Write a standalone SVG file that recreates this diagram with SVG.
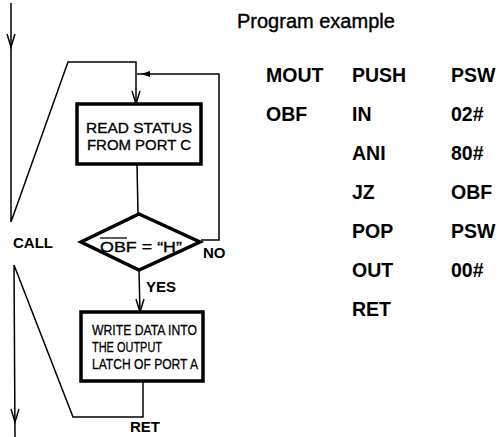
<svg xmlns="http://www.w3.org/2000/svg" width="498" height="437" viewBox="0 0 498 437">
<style>
.ln{fill:none;stroke:#000;stroke-width:1.5;stroke-linejoin:miter}
.box{fill:#fff;stroke:#000;stroke-width:3.5}
.ah{fill:none;stroke:#000;stroke-width:1.5}
.lbl{font-family:"Liberation Sans",Arial,sans-serif;font-weight:bold;font-size:15px;fill:#000}
.bt{font-family:"Liberation Sans",Arial,sans-serif;font-size:14.5px;fill:#000;stroke:#000;stroke-width:0.3}
.bt2{font-family:"Liberation Sans",Arial,sans-serif;font-size:15px;fill:#000;stroke:#000;stroke-width:0.3}
.prog{font-family:"Liberation Sans",Arial,sans-serif;font-weight:bold;font-size:19.5px;fill:#000}
.title{font-family:"Liberation Sans",Arial,sans-serif;font-size:20px;fill:#000;stroke:#000;stroke-width:0.4}
</style>
<defs>
<path id="arrowDown" class="ah" d="M-4,-13 L0,0 L4,-13"/>
<path id="arrowLeft" d="M0,0 L9,-3 L9,3 Z" fill="#000"/>
</defs>
<g id="connectors">
<polyline class="ln" points="11,3 11,222 68,62 136,62 136,104"/>
<polyline class="ln" points="201,240 219,240 219,74 137,74"/>
<line class="ln" x1="137" y1="164" x2="138" y2="214"/>
<line class="ln" x1="139" y1="270" x2="140" y2="312"/>
<polyline class="ln" points="143,382 143,417 73,417 14,265 15,437"/>
<use href="#arrowDown" transform="translate(11,47)"/>
<use href="#arrowDown" transform="translate(136,104)"/>
<use href="#arrowLeft" transform="translate(141,74)"/>
<use href="#arrowDown" transform="translate(140,312)"/>
<use href="#arrowDown" transform="translate(15,422)"/>
</g>
<g id="read-status">
<rect class="box" x="77" y="104" width="124" height="60"/>
<text class="bt" x="139" y="133" text-anchor="middle" textLength="106" lengthAdjust="spacingAndGlyphs">READ STATUS</text>
<text class="bt" x="139" y="150" text-anchor="middle" textLength="104" lengthAdjust="spacingAndGlyphs">FROM PORT C</text>
</g>
<g id="decision">
<polygon class="box" points="139,214 200,242 139,270 81,242" stroke-width="4"/>
<text class="bt" x="100" y="252" textLength="82" lengthAdjust="spacingAndGlyphs">OBF = “H”</text>
<line x1="100" y1="238" x2="127" y2="238" stroke="#000" stroke-width="1.3"/>
</g>
<g id="write-data">
<rect class="box" x="81" y="312" width="122" height="69"/>
<text class="bt2" x="92" y="335" textLength="105" lengthAdjust="spacingAndGlyphs">WRITE DATA INTO</text>
<text class="bt2" x="92" y="352" textLength="70" lengthAdjust="spacingAndGlyphs">THE OUTPUT</text>
<text class="bt2" x="92" y="369" textLength="106" lengthAdjust="spacingAndGlyphs">LATCH OF PORT A</text>
</g>
<g id="labels">
<text class="lbl" x="13" y="248">CALL</text>
<text class="lbl" x="203" y="258">NO</text>
<text class="lbl" x="146" y="292">YES</text>
<text class="lbl" x="130" y="432">RET</text>
</g>
<g id="program">
<text class="title" x="237" y="28">Program example</text>
<text class="prog" x="266" y="82">MOUT</text>
<text class="prog" x="352" y="82">PUSH</text>
<text class="prog" x="451" y="82">PSW</text>
<text class="prog" x="266" y="121">OBF</text>
<text class="prog" x="352" y="121">IN</text>
<text class="prog" x="451" y="121">02#</text>
<text class="prog" x="352" y="160">ANI</text>
<text class="prog" x="451" y="160">80#</text>
<text class="prog" x="352" y="199">JZ</text>
<text class="prog" x="451" y="199">OBF</text>
<text class="prog" x="352" y="238">POP</text>
<text class="prog" x="451" y="238">PSW</text>
<text class="prog" x="352" y="277">OUT</text>
<text class="prog" x="451" y="277">00#</text>
<text class="prog" x="352" y="316">RET</text>
</g>
</svg>
